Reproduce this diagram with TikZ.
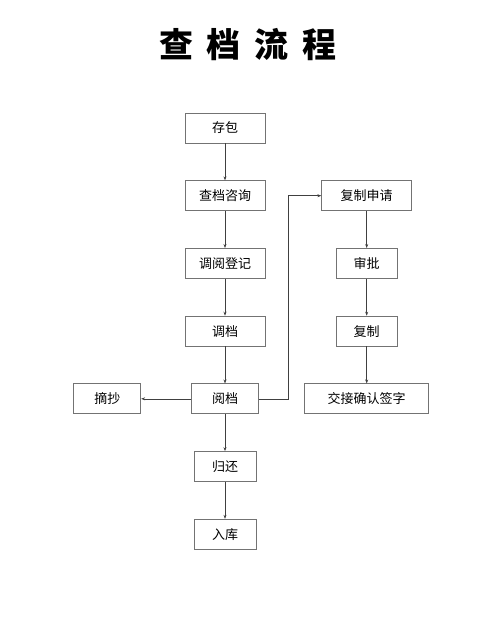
\documentclass[tikz,border=0pt]{standalone}
\usepackage{fontspec}
\newfontfamily\cjk{Noto Sans CJK SC}
\usepackage{tikz}
\usetikzlibrary{arrows.meta, positioning}
\tikzset{
	box/.style={rectangle, draw=black!55, line width=0.7pt, minimum width=80pt,
		minimum height=30pt, inner sep=0pt, align=center, font=\cjk\fontsize{13}{15}\selectfont},
	sbox/.style={box, minimum width=62pt},
	mbox/.style={box, minimum width=67pt},
	arr/.style={-{Stealth[length=4pt, width=3pt]}, line width=0.6pt, draw=black!75},
	ttl/.style={font=\cjk\bfseries\fontsize{34}{40}\selectfont},
}
\begin{document}
\begin{tikzpicture}[x=1pt, y=-1pt, node distance=37pt and 50pt]
	\useasboundingbox (0,0) rectangle (500,618);
	
	\node[ttl] (title) at (248,45) {查\hspace{14pt}档\hspace{14pt}流\hspace{14pt}程};
	
	\node[box] (cunbao) at (225,128) {存包};
	\node[box, below=of cunbao] (zixun) {查档咨询};
	\node[box, below=of zixun] (dengji) {调阅登记};
	\node[box, below=of dengji] (diaodang) {调档};
	\node[mbox, below=of diaodang] (yuedang) {阅档};
	\node[mbox, left=of yuedang] (zhaichao) {摘抄};
	\node[sbox, below=of yuedang] (guihuan) {归还};
	\node[sbox, below=of guihuan] (ruku) {入库};
	
	\node[box, minimum width=90pt, right=56pt of zixun] (shenqing) {复制申请};
	\node[box, minimum width=61pt, below=of shenqing] (shenpi) {审批};
	\node[box, minimum width=61pt, below=of shenpi] (fuzhi) {复制};
	\node[box, minimum width=124pt, below=of fuzhi] (qianzi) {交接确认签字};
	
	\draw[arr] (cunbao) -- (zixun);
	\draw[arr] (zixun) -- (dengji);
	\draw[arr] (dengji) -- (diaodang);
	\draw[arr] (diaodang) -- (yuedang);
	\draw[arr] (yuedang) -- (guihuan);
	\draw[arr] (guihuan) -- (ruku);
	\draw[arr] (yuedang) -- (zhaichao);
	
	\draw[arr] (yuedang.east) -- ++(29,0) |- (shenqing.west);
	\draw[arr] (shenqing) -- (shenpi);
	\draw[arr] (shenpi) -- (fuzhi);
	\draw[arr] (fuzhi) -- (qianzi);
	
\end{tikzpicture}
\end{document}
